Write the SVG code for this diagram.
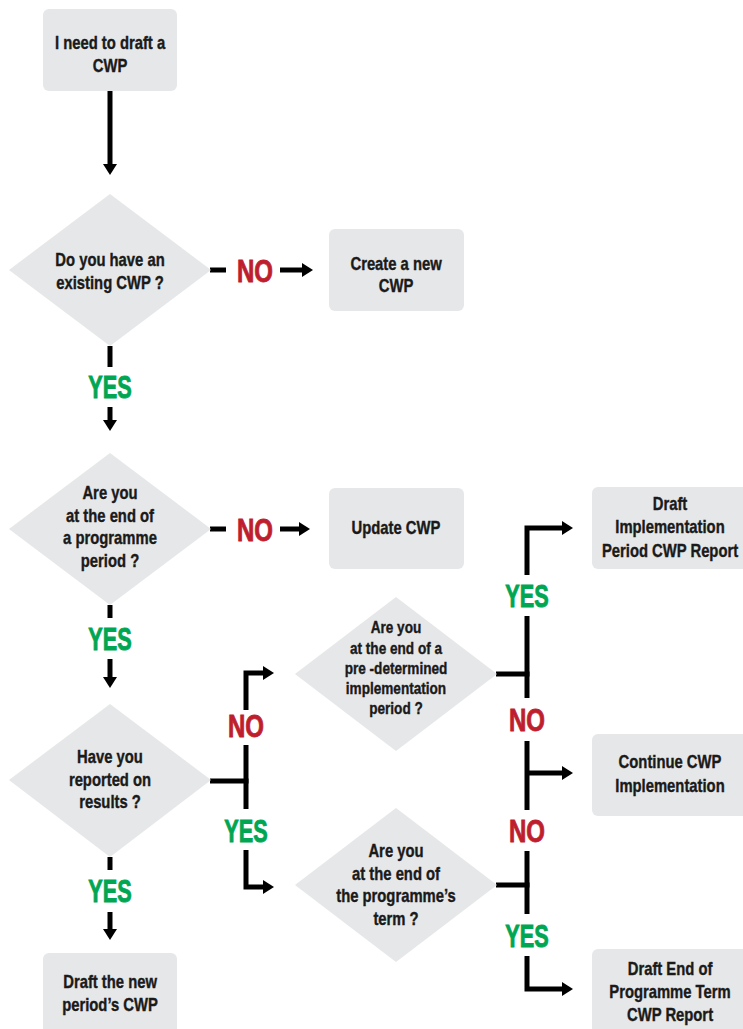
<svg xmlns="http://www.w3.org/2000/svg" width="743" height="1029" viewBox="0 0 743 1029">
  <style>
    .box { fill: #e6e7e8; }
    .dia { fill: #e6e7e8; }
    text { font-family: "Liberation Sans", Arial, sans-serif; font-weight: bold; text-anchor: middle; transform-box: fill-box; transform-origin: center; }
    .t { font-size: 18.5px; fill: #1a1a1a; stroke: #1a1a1a; stroke-width: 0.4px; transform: scaleX(0.8); }
    .ts { font-size: 17px; }
    .no { font-size: 32px; fill: #be1e2d; stroke: #be1e2d; stroke-width: 0.9px; transform: scaleX(0.75); }
    .yes { font-size: 31px; fill: #00a651; stroke: #00a651; stroke-width: 0.9px; transform: scaleX(0.7); }
    .ln { fill: none; stroke: #000; stroke-width: 5; stroke-linecap: butt; stroke-linejoin: miter; }
    .arr { marker-end: url(#head); }
  </style>
  <defs>
    <marker id="head" viewBox="0 -7 11 14" markerWidth="11" markerHeight="14" refX="1" refY="0" orient="auto" markerUnits="userSpaceOnUse">
      <path d="M0,-7 L11,0 L0,7 Z" fill="#000"/>
    </marker>
  </defs>

  <!-- connectors -->
  <g id="connectors">
    <path class="ln arr" d="M110,91 V165"/>
    <!-- existing CWP? -->
    <path class="ln" d="M210,270 H226"/>
    <path class="ln arr" d="M280,270 H303"/>
    <path class="ln" d="M110,346 V367"/>
    <path class="ln arr" d="M110,407 V421"/>
    <!-- end of programme period? -->
    <path class="ln" d="M210,529 H226"/>
    <path class="ln arr" d="M280,529 H300"/>
    <path class="ln" d="M110,605 V618"/>
    <path class="ln arr" d="M110,659 V678"/>
    <!-- reported on results? -->
    <path class="ln" d="M110,857 V870"/>
    <path class="ln arr" d="M110,912 V930"/>
    <path class="ln" d="M210,781 H248.5"/>
    <path class="ln arr" d="M246,710 V673 H264"/>
    <path class="ln" d="M246,745 V809"/>
    <path class="ln arr" d="M246,850 V887 H264"/>
    <!-- right-hand spine -->
    <path class="ln" d="M496,674 H529.5"/>
    <path class="ln arr" d="M527,575 V528 H563"/>
    <path class="ln" d="M527,616 V698"/>
    <path class="ln" d="M527,741 V810"/>
    <path class="ln arr" d="M527,773 H563"/>
    <path class="ln" d="M527,851 V914"/>
    <path class="ln" d="M496,885 H529.5"/>
    <path class="ln arr" d="M527,956 V989 H563"/>
  </g>

  <!-- branch labels -->
  <g id="labels">
    <text class="no" x="255" y="282">NO</text>
    <text class="no" x="255" y="541">NO</text>
    <text class="no" x="246" y="737">NO</text>
    <text class="no" x="527" y="731">NO</text>
    <text class="no" x="527" y="842">NO</text>
    <text class="yes" x="110" y="398">YES</text>
    <text class="yes" x="110" y="650">YES</text>
    <text class="yes" x="110" y="902">YES</text>
    <text class="yes" x="246" y="842">YES</text>
    <text class="yes" x="527" y="607">YES</text>
    <text class="yes" x="527" y="947">YES</text>
  </g>

  <g id="start">
    <rect class="box" x="43" y="9" width="134" height="82" rx="6"/>
    <text class="t" x="110" y="49">I need to draft a</text>
    <text class="t" x="110" y="72">CWP</text>
  </g>

  <g id="q-existing">
    <polygon class="dia" points="110,194 211,270 110,346 9,270"/>
    <text class="t" x="110" y="266">Do you have an</text>
    <text class="t" x="110" y="289">existing CWP ?</text>
  </g>

  <g id="create-new">
    <rect class="box" x="329" y="229" width="135" height="82" rx="6"/>
    <text class="t" x="396" y="270">Create a new</text>
    <text class="t" x="396" y="292">CWP</text>
  </g>

  <g id="q-period-end">
    <polygon class="dia" points="110,453 211,529 110,605 9,529"/>
    <text class="t" x="110" y="499">Are you</text>
    <text class="t" x="110" y="522">at the end of</text>
    <text class="t" x="110" y="544">a programme</text>
    <text class="t" x="110" y="567">period ?</text>
  </g>

  <g id="update">
    <rect class="box" x="329" y="488" width="135" height="81" rx="6"/>
    <text class="t" x="396" y="534">Update CWP</text>
  </g>

  <g id="q-reported">
    <polygon class="dia" points="110,704 211,780 110,857 9,780"/>
    <text class="t" x="110" y="763">Have you</text>
    <text class="t" x="110" y="786">reported on</text>
    <text class="t" x="110" y="808">results ?</text>
  </g>

  <g id="draft-new-period">
    <rect class="box" x="43" y="953" width="134" height="90" rx="6"/>
    <text class="t" x="110" y="988">Draft the new</text>
    <text class="t" x="110" y="1011">period’s CWP</text>
  </g>

  <g id="q-implementation-period">
    <polygon class="dia" points="396,597 497,674 396,751 295,674"/>
    <text class="t ts" x="396" y="633">Are you</text>
    <text class="t ts" x="396" y="654">at the end of a</text>
    <text class="t ts" x="396" y="674">pre -determined</text>
    <text class="t ts" x="396" y="694">implementation</text>
    <text class="t ts" x="396" y="714">period ?</text>
  </g>

  <g id="q-programme-term">
    <polygon class="dia" points="396,808 497,885 396,962 295,885"/>
    <text class="t" x="396" y="857">Are you</text>
    <text class="t" x="396" y="880">at the end of</text>
    <text class="t" x="396" y="902">the programme’s</text>
    <text class="t" x="396" y="925">term ?</text>
  </g>

  <g id="implementation-report">
    <rect class="box" x="592" y="487" width="160" height="82" rx="6"/>
    <text class="t" x="670" y="510">Draft</text>
    <text class="t" x="670" y="533">Implementation</text>
    <text class="t" x="670" y="557">Period CWP Report</text>
  </g>

  <g id="continue">
    <rect class="box" x="592" y="734" width="160" height="82" rx="6"/>
    <text class="t" x="670" y="768">Continue CWP</text>
    <text class="t" x="670" y="792">Implementation</text>
  </g>

  <g id="term-report">
    <rect class="box" x="592" y="949" width="160" height="90" rx="6"/>
    <text class="t" x="670" y="975">Draft End of</text>
    <text class="t" x="670" y="998">Programme Term</text>
    <text class="t" x="670" y="1021">CWP Report</text>
  </g>
</svg>
